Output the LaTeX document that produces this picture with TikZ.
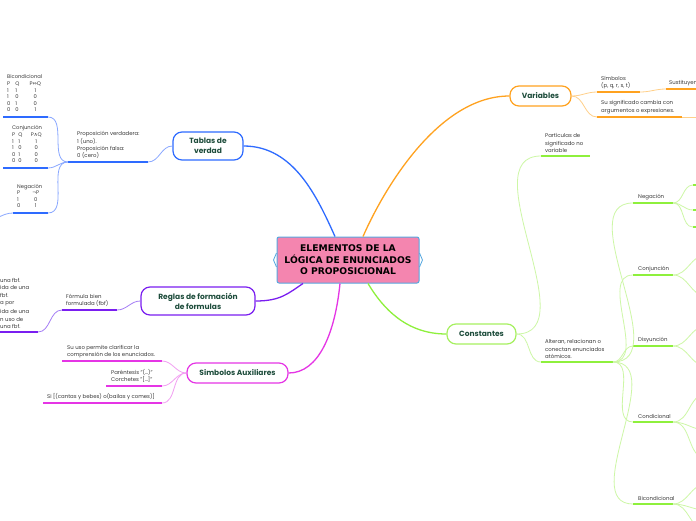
\documentclass[tikz,border=0pt]{standalone}
\usepackage{fontspec}
\setmainfont{Poppins}
\newfontfamily\symf{DejaVu Sans}
\newfontfamily\cenf{DejaVu Sans}
\usetikzlibrary{calc}
\definecolor{blueM}{HTML}{2E6BFF}
\definecolor{blueL}{HTML}{8AA8FF}
\definecolor{orangeM}{HTML}{FFA21F}
\definecolor{orangeL}{HTML}{FFD08A}
\definecolor{greenM}{HTML}{8EF03C}
\definecolor{greenL}{HTML}{CDF7A6}
\definecolor{greenB}{HTML}{A6F060}
\definecolor{purpleM}{HTML}{7A1EF0}
\definecolor{purpleL}{HTML}{A57EF5}
\definecolor{magentaM}{HTML}{E535E5}
\definecolor{magentaL}{HTML}{F2A0F2}
\definecolor{cfill}{HTML}{F485AF}
\definecolor{cborder}{HTML}{56A8E0}
\definecolor{tdark}{HTML}{1E4D3C}
\definecolor{ltext}{HTML}{3A3A3A}
\tikzset{
  central/.style={draw=cborder, fill=cfill, line width=1pt, rounded corners=2pt,
    minimum width=142pt, minimum height=46pt, inner sep=0pt, align=center,
    font=\cenf\fontsize{9.2}{11.5}\selectfont\bfseries, text=black},
  topic/.style={draw, fill=white, rounded corners=9pt, line width=1.2pt, inner sep=0pt,
    align=center, font=\fontsize{7.5}{10}\selectfont\bfseries, text=tdark},
  leaftext/.style={inner sep=0pt, align=left, font=\fontsize{5.4}{7.4}\selectfont, text=ltext},
  tabtext/.style={inner sep=0pt, align=left, font=\fontsize{5.2}{6.6}\selectfont, text=ltext},
  uline/.style={line width=2pt},
  thinc/.style={line width=0.8pt},
  mainc/.style={line width=1.3pt},
}
\newcommand\mleaf[7]{%
  \coordinate (#1-l) at (#2,#4);
  \coordinate (#1-r) at (#3,#4);
  \draw[uline,#5] (#1-l) -- (#1-r);
  \node[leaftext,anchor=south west] (#1) at (#6,#4-3) {#7};}
\begin{document}
\begin{tikzpicture}[x=1pt,y=-1pt]
\fill[white] (0,0) rectangle (696,520);
\clip (0,0) rectangle (696,520);

% ---------- central and main topics
\node[central] (c) at (348,260) {ELEMENTOS DE LA\\LÓGICA DE ENUNCIADOS\\O PROPOSICIONAL};
\draw[cborder,line width=0.8pt] ($(c.west)+(0,-7)$) -- ($(c.west)+(-3,0)$) -- ($(c.west)+(0,7)$);
\draw[cborder,line width=0.8pt] ($(c.east)+(0,-7)$) -- ($(c.east)+(3,0)$) -- ($(c.east)+(0,7)$);

\node[topic, draw=blueM, minimum width=70pt, minimum height=28pt] (tv) at (208,146) {Tablas de\\verdad};
\node[topic, draw=orangeM, minimum width=61pt, minimum height=20pt] (var) at (540.5,96) {Variables};
\node[topic, draw=greenB, minimum width=69pt, minimum height=20pt] (con) at (481.5,334) {Constantes};
\node[topic, draw=purpleM, minimum width=114pt, minimum height=28pt] (reg) at (198,301) {Reglas de formación\\de formulas};
\node[topic, draw=magentaM, minimum width=101pt, minimum height=20pt] (sa) at (237.5,373) {Simbolos Auxiliares};

\draw[mainc,blueM] ($(c.north)+(-13,0)$) .. controls +(-18,-40) and +(50,0) .. (tv.east);
\draw[mainc,orangeM] ($(c.north)+(15,0)$) .. controls +(22,-50) and +(-70,0) .. (var.west);
\draw[mainc,greenM] ($(c.south)+(20,0)$) .. controls +(15,25) and +(-40,0) .. (con.west);
\draw[mainc,purpleM] ($(c.south)+(-45,0)$) .. controls +(-15,10) and +(25,0) .. (reg.east);
\draw[mainc,magentaM] ($(c.south)+(-8,0)$) .. controls +(-5,50) and +(30,0) .. (sa.east);

% ---------- Tablas de verdad
\mleaf{pv}{68}{148}{162}{blueM}{77}{Proposición verdadera:\\1 (uno).\\Proposición falsa:\\0 (cero)}
\coordinate (bic-l) at (3,117); \coordinate (bic-r) at (48,117);
\draw[uline,blueM] (bic-l) -- (bic-r);
\node[tabtext,anchor=south west] (bict) at (7,114) {\begin{tabular}{@{}l@{\hspace{5pt}}l@{\hspace{3pt}}c@{}}
\multicolumn{3}{@{}l}{Bicondicional}\\
P & Q & P{\symf ⇔}Q\\
1 & 1 & 1\\
1 & 0 & 0\\
0 & 1 & 0\\
0 & 0 & 1\end{tabular}};
\coordinate (cj-l) at (3,168); \coordinate (cj-r) at (48,168);
\draw[uline,blueM] (cj-l) -- (cj-r);
\node[tabtext,anchor=south west] (cjt) at (12,165) {\begin{tabular}{@{}l@{\hspace{3pt}}l@{\hspace{2pt}}c@{}}
\multicolumn{3}{@{}l}{Conjunción}\\
P & Q & P{\symf ∧}Q\\
1 & 1 & 1\\
1 & 0 & 0\\
0 & 1 & 0\\
0 & 0 & 0\end{tabular}};
\coordinate (ng-l) at (13,213); \coordinate (ng-r) at (48,213);
\draw[uline,blueM] (ng-l) -- (ng-r);
\node[tabtext,anchor=south west] (ngt) at (17,210) {\begin{tabular}{@{}l@{\hspace{3pt}}c@{}}
\multicolumn{2}{@{}l}{Negación}\\
P & ¬P\\
1 & 0\\
0 & 1\end{tabular}};
\coordinate (ngx) at (-15,221);
\draw[thinc,blueL] (tv.west) to[out=180,in=0] (pv-r);
\draw[thinc,blueL] (pv-l) to[out=180,in=0] (bic-r);
\draw[thinc,blueL] (pv-l) to[out=180,in=0] (cj-r);
\draw[thinc,blueL] (pv-l) to[out=180,in=0] (ng-r);
\draw[thinc,blueL] (ng-l) to[out=180,in=0] (ngx);

% ---------- Reglas
\mleaf{fbf}{62}{117}{310}{purpleM}{66}{Fórmula bien\\formulada (fbf)}
\node[leaftext,anchor=north west] (r1) at (0,278) {una fbf.\\ida de una\\fbf.\\a por};
\mleaf{r2}{-40}{38}{332}{purpleM}{0}{ida de una\\n uso de\\una fbf.}
\draw[thinc,purpleL] (reg.west) to[out=180,in=0] (fbf-r);
\draw[thinc,purpleL] (fbf-l) to[out=180,in=0] (r2-r);

% ---------- Simbolos auxiliares
\mleaf{su}{62}{162}{361}{magentaM}{67}{Su uso permite clarificar la\\comprensión de los enunciados.}
\mleaf{par}{106}{162}{386}{magentaM}{111}{Paréntesis "(…)"\\Corchetes "[…]"}
\mleaf{si}{43}{162}{403}{magentaM}{47}{Si [(cantas y bebes) o(bailas y comes)]}
\draw[thinc,magentaL] (sa.west) to[out=180,in=0] (su-r);
\draw[thinc,magentaL] (sa.west) to[out=180,in=0] (par-r);
\draw[thinc,magentaL] (sa.west) to[out=180,in=0] (si-r);

% ---------- Variables
\mleaf{sym}{597}{640}{92}{orangeM}{601}{Símbolos\\(p, q, r, s, t)}
\mleaf{sig}{597}{682}{117}{orangeM}{601}{Su significado cambia con\\argumentos o expresiones.}
\mleaf{sus}{666}{710}{89}{orangeM}{669}{Sustituyen}
\coordinate (sigx) at (710,117);
\draw[thinc,orangeL] (var.east) to[out=0,in=180] (sym-l);
\draw[thinc,orangeL] (var.east) to[out=0,in=180] (sig-l);
\draw[thinc,orangeL] (sym-r) to[out=0,in=180] (sus-l);
\draw[thinc,orangeL] (sig-r) -- (sigx);

% ---------- Constantes
\mleaf{part}{541}{590}{156}{greenM}{545}{Partículas de\\significado no\\variable}
\mleaf{alt}{541}{613}{362}{greenM}{545}{Alteran, relacionan o\\conectan enunciados\\atómicos.}
\draw[thinc,greenL] (con.east) to[out=0,in=180] (part-l);
\draw[thinc,greenL] (con.east) to[out=0,in=180] (alt-l);

\mleaf{neg}{633}{673}{203}{greenM}{638}{Negación}
\mleaf{conj}{633}{673}{275}{greenM}{638}{Conjunción}
\mleaf{dis}{633}{673}{346}{greenM}{638}{Disyunción}
\mleaf{cond}{633}{673}{422}{greenM}{638}{Condicional}
\mleaf{bi}{633}{673}{504}{greenM}{638}{Bicondicional}
\foreach \n in {neg,conj,dis,cond,bi}{
  \draw[thinc,greenL] (alt-r) to[out=0,in=180] (\n-l);
}
% off-page branches
\mleaf{n1}{693}{710}{185}{greenM}{700}{}
\mleaf{n2}{693}{710}{210}{greenM}{700}{}
\mleaf{n3}{693}{710}{227}{greenM}{700}{}
\draw[thinc,greenL] (neg-r) to[out=0,in=180] (n1-l);
\draw[thinc,greenL] (neg-r) to[out=0,in=180] (n2-l);
\draw[thinc,greenL] (neg-r) to[out=0,in=180] (n3-l);
\coordinate (c1) at (706,255); \coordinate (c2) at (706,296);
\draw[thinc,greenL] (conj-r) to[out=0,in=180] (c1);
\draw[thinc,greenL] (conj-r) to[out=0,in=180] (c2);
\coordinate (d1) at (706,326); \coordinate (d2) at (706,366);
\draw[thinc,greenL] (dis-r) to[out=0,in=180] (d1);
\draw[thinc,greenL] (dis-r) to[out=0,in=180] (d2);
\coordinate (k1) at (706,394); \coordinate (k2) at (706,430); \coordinate (k3) at (706,458);
\draw[thinc,greenL] (cond-r) to[out=0,in=180] (k1);
\draw[thinc,greenL] (cond-r) to[out=0,in=180] (k2);
\draw[thinc,greenL] (cond-r) to[out=0,in=180] (k3);
\coordinate (b1) at (706,484); \coordinate (b2) at (706,510); \coordinate (b3) at (706,530);
\draw[thinc,greenL] (bi-r) to[out=0,in=180] (b1);
\draw[thinc,greenL] (bi-r) to[out=0,in=180] (b2);
\draw[thinc,greenL] (bi-r) to[out=0,in=180] (b3);
\end{tikzpicture}
\end{document}
